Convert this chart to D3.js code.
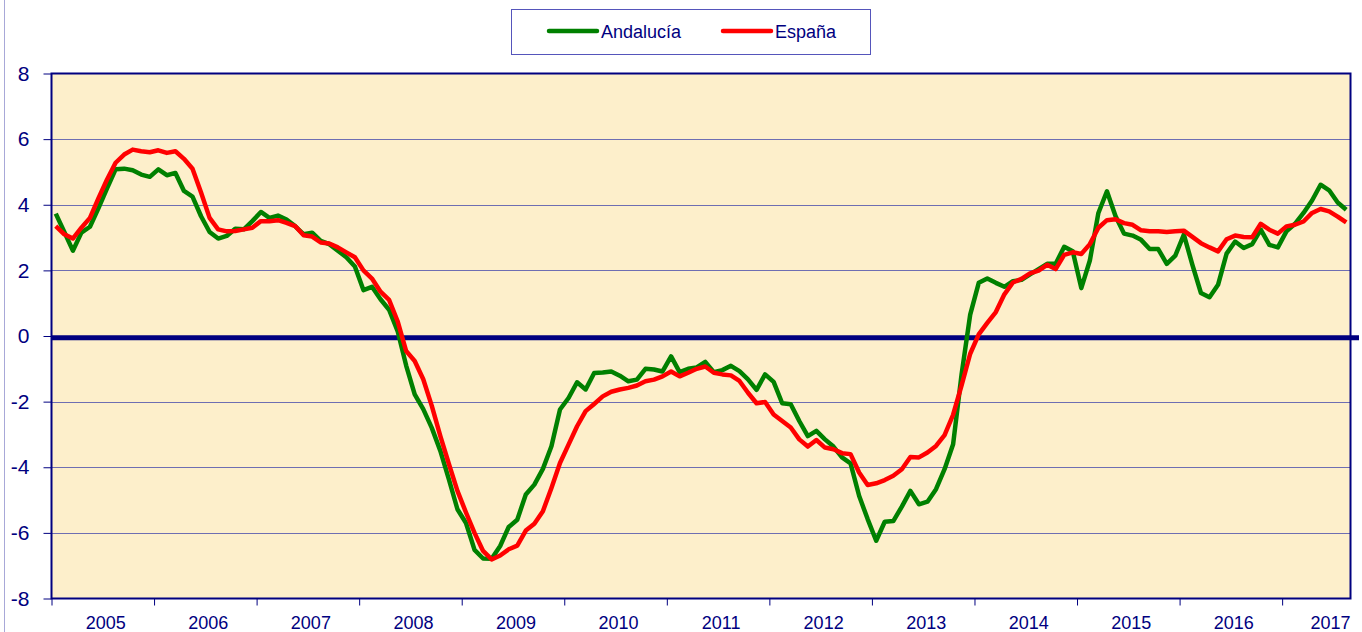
<!DOCTYPE html>
<meta charset="utf-8">
<style>
body { margin: 0; background: #fff; }
svg text { font-family: "Liberation Sans", Arial, sans-serif; fill: #000080; }
.grid line { stroke: #6e6eb2; stroke-width: 1px; }
</style>
<body>
<script src="https://d3js.org/d3.v7.min.js"></script>
<script>

var years = ["2005", "2006", "2007", "2008", "2009", "2010", "2011", "2012", "2013", "2014", "2015", "2016", "2017"];

// tasa interanual, enero 2005 - agosto 2017
var andalucia = [
  3.73, 3.17, 2.6, 3.15, 3.33, 3.9, 4.5, 5.08, 5.1, 5.05, 4.92, 4.85,
  5.08, 4.9, 4.97, 4.42, 4.25, 3.65, 3.17, 2.97, 3.05, 3.27, 3.25, 3.5,
  3.78, 3.6, 3.67, 3.55, 3.35, 3.1, 3.15, 2.9, 2.8, 2.6, 2.4, 2.12,
  1.4, 1.5, 1.12, 0.8, 0.15, -0.9, -1.78, -2.23, -2.8, -3.5, -4.37, -5.28,
  -5.7, -6.52, -6.78, -6.79, -6.4, -5.82, -5.6, -4.83, -4.53, -4.05, -3.36, -2.24,
  -1.89, -1.41, -1.63, -1.13, -1.11, -1.08, -1.21, -1.38, -1.33, -1.0, -1.02, -1.08,
  -0.62, -1.1, -1.0, -0.96, -0.79, -1.1, -1.04, -0.91, -1.07, -1.32, -1.64, -1.17,
  -1.4, -2.05, -2.08, -2.59, -3.05, -2.89, -3.15, -3.37, -3.7, -3.88, -4.87, -5.58,
  -6.24, -5.66, -5.64, -5.2, -4.72, -5.13, -5.05, -4.67, -4.06, -3.3, -1.15, 0.65,
  1.62, 1.75, 1.62, 1.5, 1.67, 1.71, 1.88, 2.04, 2.2, 2.2, 2.72, 2.58,
  1.46, 2.3, 3.75, 4.41, 3.66, 3.12, 3.06, 2.93, 2.65, 2.65, 2.2, 2.45,
  3.09, 2.17, 1.31, 1.18, 1.56, 2.51, 2.88, 2.68, 2.8, 3.24, 2.78, 2.7,
  3.19, 3.42, 3.75, 4.13, 4.61, 4.44, 4.07, 3.85
];

var espana = [
  3.35, 3.1, 2.97, 3.3, 3.6, 4.2, 4.77, 5.28, 5.53, 5.68, 5.63, 5.6,
  5.66, 5.58, 5.63, 5.4, 5.1, 4.37, 3.6, 3.25, 3.19, 3.2, 3.25, 3.3,
  3.5, 3.5, 3.53, 3.45, 3.35, 3.07, 3.03, 2.85, 2.82, 2.7, 2.55, 2.4,
  2.0, 1.75, 1.35, 1.1, 0.45, -0.46, -0.76, -1.32, -2.13, -3.05, -3.9, -4.72,
  -5.38, -6.0, -6.55, -6.81, -6.69, -6.5, -6.39, -5.93, -5.72, -5.34, -4.63, -3.87,
  -3.31, -2.75, -2.29, -2.07, -1.84, -1.7, -1.63, -1.58, -1.51, -1.38, -1.33, -1.23,
  -1.08, -1.23, -1.12, -1.0, -0.93, -1.12, -1.17, -1.2, -1.37, -1.73, -2.05, -2.01,
  -2.39, -2.59, -2.79, -3.15, -3.37, -3.17, -3.4, -3.45, -3.57, -3.6, -4.16, -4.54,
  -4.49, -4.39, -4.26, -4.06, -3.69, -3.7, -3.55, -3.35, -3.02, -2.4, -1.5, -0.54,
  0.05, 0.4, 0.73, 1.27, 1.63, 1.74, 1.91, 1.99, 2.17, 2.04, 2.47, 2.55,
  2.5, 2.8, 3.3, 3.53, 3.56, 3.44, 3.39, 3.22, 3.19, 3.19, 3.17, 3.19,
  3.21, 3.02, 2.83, 2.7, 2.58, 2.95, 3.06, 3.02, 3.01, 3.42, 3.24, 3.12,
  3.34, 3.39, 3.49, 3.75, 3.87, 3.8, 3.64, 3.46
];

var yTicks = [-8, -6, -4, -2, 0, 2, 4, 6, 8];

var series = [
  { name: "Andalucía", values: andalucia, color: "#008000" },
  { name: "España", values: espana, color: "#ff0000" }
];

var width = 1362,
    height = 632,
    plotL = 51.5, plotR = 1350.5, plotT = 73.5, plotB = 598.5,
    nMonths = andalucia.length;

var svg = d3.select("body").append("svg")
    .attr("width", width)
    .attr("height", height);

var x = d3.scaleLinear().domain([0, nMonths]).range([plotL, plotR]);
var y = d3.scaleLinear().domain([-8, 8]).range([plotB, plotT]);

// thin outer border on the left
svg.append("line")
    .attr("x1", 4.5).attr("x2", 4.5).attr("y1", 0).attr("y2", height)
    .attr("stroke", "#a8a8d8").attr("stroke-width", 1);

svg.append("rect")
    .attr("x", plotL).attr("y", plotT)
    .attr("width", plotR - plotL).attr("height", plotB - plotT)
    .attr("fill", "#fdefcb");

svg.append("g").attr("class", "grid")
  .selectAll("line")
  .data(yTicks.filter(function(d) { return d > -8 && d < 8 && d != 0; }))
  .enter().append("line")
    .attr("x1", plotL).attr("x2", plotR)
    .attr("y1", function(d) { return Math.round(y(d)) + 0.5; })
    .attr("y2", function(d) { return Math.round(y(d)) + 0.5; });

// zero line
svg.append("line")
    .attr("x1", plotL).attr("x2", 1359)
    .attr("y1", y(0) + 1.8).attr("y2", y(0) + 1.8)
    .attr("stroke", "#000080").attr("stroke-width", 5);

var line = d3.line()
    .x(function(d, i) { return x(i + 0.5); })
    .y(function(d) { return y(d); });

svg.selectAll(".serie")
    .data(series)
  .enter().append("path")
    .attr("class", "serie")
    .attr("fill", "none")
    .attr("stroke", function(d) { return d.color; })
    .attr("stroke-width", 4.5)
    .attr("stroke-linejoin", "round")
    .attr("d", function(d) { return line(d.values); });

// frame
svg.append("rect")
    .attr("x", plotL).attr("y", plotT)
    .attr("width", plotR - plotL).attr("height", plotB - plotT)
    .attr("fill", "none").attr("stroke", "#000080").attr("stroke-width", 2);

// y axis
var yAxis = svg.append("g")
    .attr("transform", "translate(" + plotL + ",0)")
    .call(d3.axisLeft(y).tickValues(yTicks).tickSize(8).tickPadding(14)
      .tickFormat(function(d) { return String(d); }));
yAxis.select(".domain").remove();
yAxis.selectAll(".tick line").attr("stroke", "#000080");
yAxis.selectAll("text")
    .style("font-size", "21px")
    .attr("fill", "#000080");

// x axis: ticks on year boundaries, labels centered in each year
var bounds = d3.range(0, nMonths + 1, 12);
var xAxis = svg.append("g")
    .attr("transform", "translate(0," + plotB + ")")
    .call(d3.axisBottom(x).tickValues(bounds).tickSize(7).tickFormat(""));
xAxis.select(".domain").remove();
xAxis.selectAll(".tick line").attr("stroke", "#000080");

svg.append("g").selectAll("text")
    .data(years)
  .enter().append("text")
    .attr("x", function(d, i) { return Math.min(x(i * 12 + 6) + 3, plotR - 20); })
    .attr("y", 629)
    .attr("text-anchor", "middle")
    .style("font-size", "18px")
    .text(function(d) { return d; });

// legend
var legend = svg.append("g");
legend.append("rect")
    .attr("x", 511.5).attr("y", 9.5)
    .attr("width", 359).attr("height", 45)
    .attr("fill", "#fff")
    .attr("stroke", "#5555bb").attr("stroke-width", 1);

var items = legend.selectAll(".item")
    .data(series)
  .enter().append("g")
    .attr("transform", function(d, i) { return "translate(" + (549 + i * 174) + ",31)"; });

items.append("line")
    .attr("x1", 0).attr("x2", 48)
    .attr("stroke", function(d) { return d.color; })
    .attr("stroke-width", 4.5)
    .attr("stroke-linecap", "round");

items.append("text")
    .attr("x", 52).attr("y", 6.5)
    .style("font-size", "18px")
    .text(function(d) { return d.name; });

</script>
